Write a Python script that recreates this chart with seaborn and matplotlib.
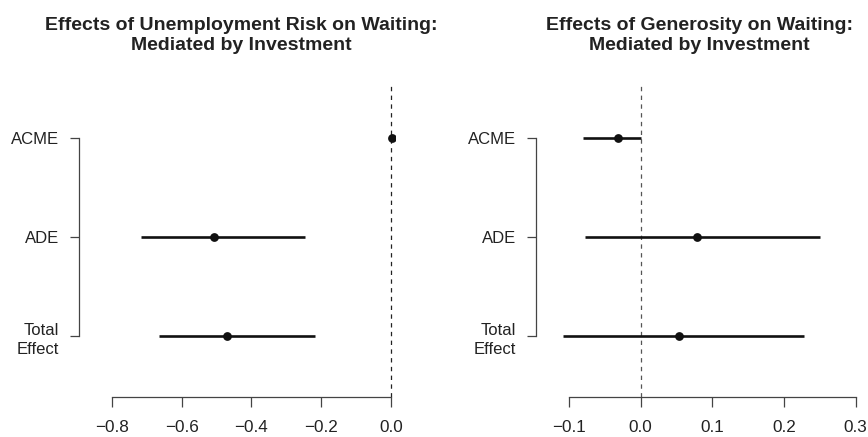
import matplotlib
matplotlib.use("Agg")
import matplotlib.pyplot as plt
import seaborn as sns
import pandas as pd

sns.set_theme(style="white")
plt.rcParams['font.family'] = ['Liberation Sans', 'DejaVu Sans']

effects = ["ACME", "ADE", "Total\nEffect"]

# Panel 1: Unemployment risk
risk_est = [0.002, -0.507, -0.471]
risk_lo = [-0.003, -0.717, -0.665]
risk_hi = [0.007, -0.247, -0.218]
risk_ticks = [-0.8, -0.6, -0.4, -0.2, 0.0]

# Panel 2: Generosity
gen_est = [-0.032, 0.079, 0.053]
gen_lo = [-0.0805, -0.078, -0.108]
gen_hi = [0.001, 0.250, 0.228]
gen_ticks = [-0.1, 0.0, 0.1, 0.2, 0.3]

titles = [["Effects of Unemployment Risk on Waiting:", "Mediated by Investment"],
          ["Effects of Generosity on Waiting:", "Mediated by Investment"]]

W, H = 868, 437
fig = plt.figure(figsize=(W / 100, H / 100), dpi=100)

def px_axes(left, right, top, bottom):
    return fig.add_axes([left / W, 1 - bottom / H, (right - left) / W, (bottom - top) / H])

panels = [
    dict(est=risk_est, lo=risk_lo, hi=risk_hi, ticks=risk_ticks, tcx=241,
         box=(79, 395, 82, 397), xlim=((79 - 391) / 348.75, (395 - 391) / 348.75)),
    dict(est=gen_est, lo=gen_lo, hi=gen_hi, ticks=gen_ticks, tcx=699,
         box=(536, 862, 82, 397), xlim=((536 - 640.7) / 716.75, (862 - 640.7) / 716.75)),
]

ink = "#222222"
for i, (p, title) in enumerate(zip(panels, titles)):
    ax = px_axes(*p["box"])
    df = pd.DataFrame({"effect": effects, "pos": [0, 1, 2],
                       "est": p["est"], "lo": p["lo"], "hi": p["hi"]})
    ax.axvline(0, color="#222222" if i == 0 else "#555555", lw=0.9,
               ls=(0, (3.5, 3.5)), zorder=1)
    ax.hlines(df["pos"], df["lo"], df["hi"], color="#111111", lw=1.9, zorder=2)
    sns.scatterplot(data=df, x="est", y="pos", ax=ax, color="#111111", s=40,
                    edgecolor="#111111", linewidth=0, zorder=3, legend=False)
    ax.set_xlim(*p["xlim"])
    ax.set_ylim(2.616, -0.566)
    ax.set_yticks([0, 1, 2])
    ax.set_yticklabels(effects, ha="right", multialignment="right", linespacing=1.35)
    ax.set_xticks(p["ticks"])
    ax.set_xticklabels([f"{t:.1f}".replace("-", "\u2212") for t in p["ticks"]])
    ax.set_xlabel("")
    ax.set_ylabel("")
    for s in ["top", "right"]:
        ax.spines[s].set_visible(False)
    for s in ["left", "bottom"]:
        ax.spines[s].set_color("#444444")
        ax.spines[s].set_linewidth(0.9)
    ax.spines["left"].set_bounds(0, 2)
    ax.spines["bottom"].set_bounds(p["ticks"][0], p["ticks"][-1])
    ax.tick_params(axis="x", direction="out", length=7.2, width=0.9, color="#444444",
                   labelsize=12.3, labelcolor=ink, pad=9, bottom=True)
    ax.tick_params(axis="y", direction="out", length=6.5, width=0.9, color="#444444",
                   labelsize=12, labelcolor=ink, pad=8, left=True)
    ax.set_facecolor("white")
    cx = p["tcx"]
    fig.text(cx / W, 1 - 30 / H, title[0], ha="center", va="baseline", fontsize=14,
             fontweight="bold", color=ink)
    fig.text(cx / W, 1 - 49.5 / H, title[1], ha="center", va="baseline", fontsize=14,
             fontweight="bold", color=ink)

fig.savefig("out.png", dpi=100, facecolor="white")
